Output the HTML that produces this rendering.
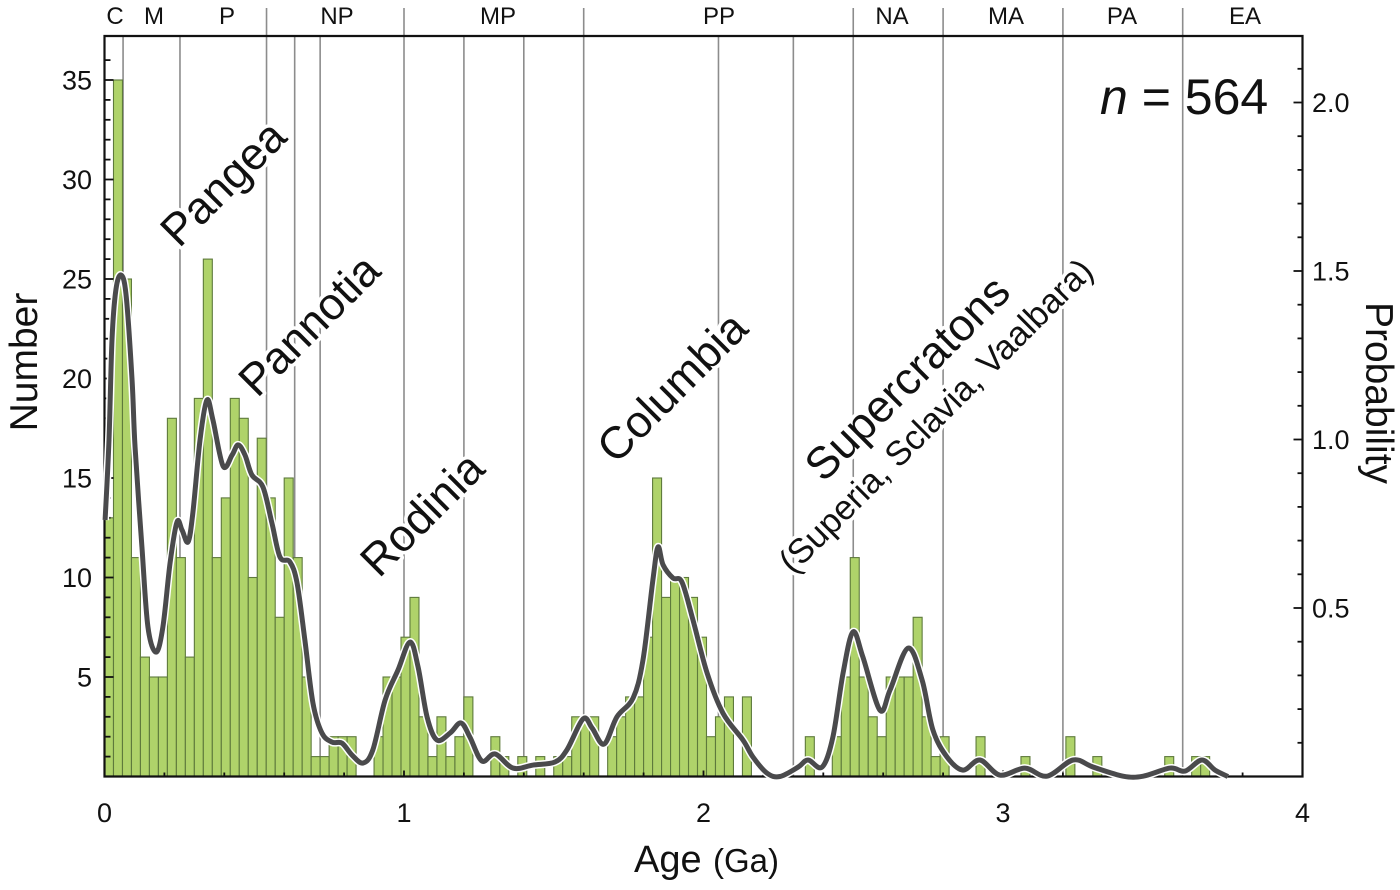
<!DOCTYPE html>
<html lang="en">
<head>
<meta charset="utf-8">
<title>Age histogram</title>
<style>
html,body{margin:0;padding:0;background:#fff;}
svg{display:block;font-family:"Liberation Sans",sans-serif;fill:#111;}
.halo{paint-order:stroke;stroke:#fff;stroke-width:7px;stroke-linejoin:round;}
</style>
</head>
<body>
<svg id="chart" xmlns="http://www.w3.org/2000/svg" width="1400" height="890" viewBox="0 0 1400 890">
<rect x="0" y="0" width="1400" height="890" fill="#fff"/>
<g id="period-lines"></g>
<g id="bars"></g>
<g id="axes"></g>
<g id="curve"></g>
<g id="tick-labels" font-size="27"></g>
<g font-size="24" text-anchor="middle">
<text x="115" y="24">C</text>
<text x="154" y="24">M</text>
<text x="227" y="24">P</text>
<text x="337" y="24">NP</text>
<text x="498" y="24">MP</text>
<text x="719" y="24">PP</text>
<text x="892" y="24">NA</text>
<text x="1006" y="24">MA</text>
<text x="1122" y="24">PA</text>
<text x="1245" y="24">EA</text>
</g>
<text x="634" y="872" font-size="38">Age <tspan x="713" font-size="33">(Ga)</tspan></text>
<text transform="translate(37,362) rotate(-90)" text-anchor="middle" font-size="39">Number</text>
<text transform="translate(1366,393) rotate(90)" text-anchor="middle" font-size="39">Probability</text>
<text x="1100" y="114" font-size="50"><tspan font-style="italic">n</tspan> = 564</text>
<g text-anchor="middle">
<text class="halo" transform="translate(234,194) rotate(-45)" font-size="45">Pangea</text>
<text class="halo" transform="translate(320,336) rotate(-45)" font-size="45">Pannotia</text>
<text class="halo" transform="translate(433,525) rotate(-45)" font-size="45">Rodinia</text>
<text class="halo" transform="translate(683,398) rotate(-45)" font-size="45">Columbia</text>
<text class="halo" transform="translate(918,389) rotate(-45)" font-size="45">Supercratons</text>
<text class="halo" transform="translate(944,424) rotate(-45)" font-size="34.5">(Superia, Sclavia, Vaalbara)</text>
</g>
</svg>
<script>
var binWidthGa = 0.03;
var binCounts = [13,35,25,11,6,5,5,18,11,6,19,26,11,14,19,18,10,17,14,8,15,11,5,1,1,2,2,2,0,0,2,5,5,7,9,3,1,3,1,2,4,0,0,2,1,0,1,0,1,0,1,1,3,3,3,0,2,3,4,4,7,15,9,10,10,9,7,2,3,4,0,4,0,0,0,0,0,0,2,0,0,2,5,11,5,3,2,5,5,5,8,3,1,2,0,0,0,2,0,0,0,0,1,0,0,0,0,2,0,0,1,0,0,0,0,0,0,0,1,0,0,1,1];
var curveAges = [0.002,0.015,0.025,0.038,0.055,0.072,0.092,0.102,0.125,0.145,0.172,0.195,0.219,0.242,0.259,0.279,0.295,0.319,0.342,0.362,0.396,0.426,0.446,0.469,0.492,0.529,0.559,0.586,0.619,0.643,0.669,0.696,0.726,0.760,0.793,0.826,0.863,0.896,0.937,0.980,1.020,1.047,1.077,1.110,1.154,1.190,1.220,1.260,1.304,1.364,1.431,1.504,1.544,1.598,1.628,1.668,1.711,1.765,1.798,1.831,1.848,1.865,1.898,1.928,1.965,2.012,2.065,2.132,2.165,2.212,2.255,2.316,2.349,2.396,2.432,2.466,2.499,2.532,2.589,2.623,2.683,2.730,2.766,2.813,2.866,2.923,2.990,3.073,3.147,3.234,3.301,3.401,3.468,3.558,3.608,3.664,3.708,3.751];
var curveProbs = [0.761,0.998,1.295,1.444,1.488,1.429,1.177,0.978,0.681,0.444,0.369,0.444,0.634,0.755,0.731,0.696,0.782,0.999,1.117,1.058,0.921,0.954,0.984,0.954,0.895,0.859,0.752,0.651,0.637,0.574,0.405,0.218,0.129,0.102,0.099,0.064,0.040,0.079,0.227,0.316,0.399,0.325,0.177,0.108,0.129,0.159,0.117,0.046,0.067,0.025,0.034,0.043,0.079,0.171,0.144,0.096,0.177,0.233,0.346,0.583,0.681,0.628,0.589,0.577,0.464,0.307,0.188,0.108,0.058,0.010,0,0.028,0.049,0.028,0.117,0.307,0.429,0.355,0.197,0.257,0.381,0.286,0.138,0.058,0.019,0.049,0.004,0.025,0.001,0.049,0.028,0.001,0.001,0.025,0.016,0.049,0.019,0];
var shortBoundaries = [0.062,0.252,0.635,0.72,1.2,1.4,2.05,2.3];
var tallBoundaries = [0.541,1.0,1.6,2.5,2.8,3.2,3.6];
var xTickLabels = [0,1,2,3,4];
var countTickLabels = [5,10,15,20,25,30,35];
var probTickLabels = ["0.5","1.0","1.5","2.0"];

var NS = 'http://www.w3.org/2000/svg';
var LEFT = 104.5, RIGHT = 1302.5, TOP = 36, BASE = 776.5;
function xScale(age) { return LEFT + age * (RIGHT - LEFT) / 4; }
function countScale(n) { return BASE - n * 19.9; }
function probScale(p) { return BASE - p * 337; }
function make(tag, parent, attrs) {
  var el = document.createElementNS(NS, tag);
  for (var k in attrs) el.setAttribute(k, attrs[k]);
  parent.appendChild(el);
  return el;
}

var periodGroup = document.getElementById('period-lines');
shortBoundaries.forEach(function (age) {
  var line = make('line', periodGroup, {x1: xScale(age), x2: xScale(age), y1: TOP, y2: BASE, stroke: '#8c8c8c', 'stroke-width': 1.6});
  
  
});
tallBoundaries.forEach(function (age) {
  var line = make('line', periodGroup, {x1: xScale(age), x2: xScale(age), y1: 8, y2: BASE, stroke: '#8c8c8c', 'stroke-width': 1.6});
  
  
});

var barGroup = document.getElementById('bars');
binCounts.forEach(function (n, i) {
  if (!n) return;
  var x0 = xScale(i * binWidthGa), x1 = xScale((i + 1) * binWidthGa);
  var rect = make('rect', barGroup, {x: x0, width: x1 - x0, y: countScale(n), height: BASE - countScale(n), fill: '#afd36a', stroke: '#5e7a3c', 'stroke-width': 1.1});
  
  
});

var axisGroup = document.getElementById('axes');
var frame = make('path', axisGroup, {d: 'M' + LEFT + ' ' + BASE + 'V' + TOP + 'H' + RIGHT + 'V' + BASE + 'Z', fill: 'none', stroke: '#111', 'stroke-width': 2.2});


for (var c = 1; c <= 36; c++) {
  var len = c % 5 === 0 ? 9 : 6;
  var countTick = make('line', axisGroup, {x1: LEFT, x2: LEFT + len, y1: countScale(c), y2: countScale(c), stroke: '#111', 'stroke-width': 1.8});
  
  
}
for (var p = 1; p <= 21; p++) {
  var plen = p % 5 === 0 ? 9 : 5;
  var probTick = make('line', axisGroup, {x1: RIGHT - plen, x2: RIGHT, y1: probScale(p / 10), y2: probScale(p / 10), stroke: '#111', 'stroke-width': 1.8});
  
  
}
for (var a = 1; a < 20; a++) {
  var alen = a % 5 === 0 ? 6 : 4;
  var ageTick = make('line', axisGroup, {x1: xScale(a / 5), x2: xScale(a / 5), y1: BASE, y2: BASE - alen, stroke: '#111', 'stroke-width': 1.8});
  
  
}

function curvePath() {
  var pts = curveAges.map(function (age, i) { return [xScale(age), probScale(curveProbs[i])]; });
  var d = 'M' + pts[0][0] + ' ' + pts[0][1];
  for (var i = 0; i < pts.length - 1; i++) {
    var p0 = pts[Math.max(i - 1, 0)], p1 = pts[i], p2 = pts[i + 1], p3 = pts[Math.min(i + 2, pts.length - 1)];
    d += 'C' + (p1[0] + (p2[0] - p0[0]) / 6) + ' ' + (p1[1] + (p2[1] - p0[1]) / 6) + ' ' +
         (p2[0] - (p3[0] - p1[0]) / 6) + ' ' + (p2[1] - (p3[1] - p1[1]) / 6) + ' ' + p2[0] + ' ' + p2[1];
  }
  return d;
}
var curveGroup = document.getElementById('curve');
var curveD = curvePath();
var curveHalo = make('path', curveGroup, {d: curveD, fill: 'none', stroke: '#fff', 'stroke-width': 8, 'stroke-linejoin': 'round'});


var curveLine = make('path', curveGroup, {d: curveD, fill: 'none', stroke: '#4a4a4c', 'stroke-width': 5, 'stroke-linejoin': 'round'});



var labelGroup = document.getElementById('tick-labels');
xTickLabels.forEach(function (v) {
  var t = make('text', labelGroup, {x: xScale(v), y: 822, 'text-anchor': 'middle'});
  
  
  t.textContent = v;
});
countTickLabels.forEach(function (v) {
  var t = make('text', labelGroup, {x: 92, y: countScale(v) + 9.5, 'text-anchor': 'end'});
  
  
  t.textContent = v;
});
probTickLabels.forEach(function (v) {
  var t = make('text', labelGroup, {x: 1312, y: probScale(parseFloat(v)) + 9.5});
  
  
  t.textContent = v;
});
</script>
</body>
</html>
